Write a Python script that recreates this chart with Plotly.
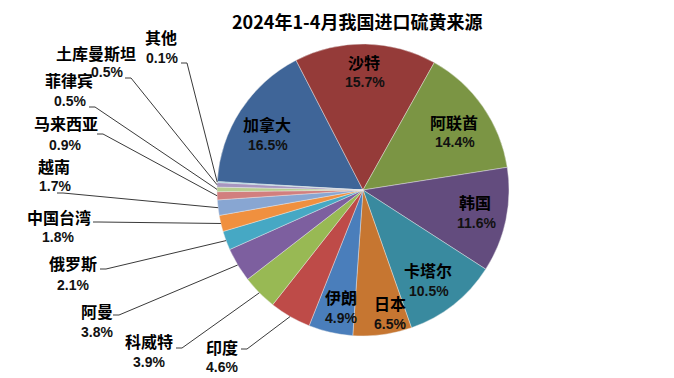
import math
import plotly.graph_objects as go

# ---------------- data ----------------
title_text = "2024年1-4月我国进口硫黄来源"
countries = ["加拿大", "沙特", "阿联酋", "韩国", "卡塔尔", "日本", "伊朗", "印度", "科威特",
             "阿曼", "俄罗斯", "中国台湾", "越南", "马来西亚", "菲律宾", "土库曼斯坦", "其他"]
shares = [16.5, 15.7, 14.4, 11.6, 10.5, 6.5, 4.9, 4.6, 3.9, 3.8, 2.1, 1.8, 1.7, 0.9, 0.5, 0.5, 0.1]

# ---------------- style ----------------
colors = ["#3F6598", "#953B39", "#7B9544", "#634C7E", "#398A9F", "#C67631",
          "#4A7EBB", "#BE4B48", "#98B954", "#7D5F9F", "#46A8C4", "#F0903F",
          "#88A6D2", "#D27F7E", "#B6CD8F", "#A796C0", "#86C6D8"]

PAGE_MARGIN = 8          # default body margin of the html page
W, H = 674 - PAGE_MARGIN, 378 - PAGE_MARGIN
CX, CY, R = 363, 190, 146   # in window pixels
ROT = 273.3  # start angle, clockwise from 12 o'clock

# label layout (window pixel centers): name center, percent center, leader anchor (outside labels)
label_pos = {
    "加拿大": ((267, 124), (268, 145), None),
    "沙特": ((364, 62), (365, 82), None),
    "阿联酋": ((454, 122), (455, 142), None),
    "韩国": ((475, 202), (476, 223), None),
    "卡塔尔": ((428, 270), (429, 291), None),
    "日本": ((390, 303), (390, 324), None),
    "伊朗": ((341, 297), (341, 318), None),
    "印度": ((222, 347), (222, 367), (241, 349)),
    "科威特": ((149, 341), (149, 362), (176, 348)),
    "阿曼": ((97, 311), (97, 332), (113, 315)),
    "俄罗斯": ((73, 263), (73, 285), (100, 269)),
    "中国台湾": ((59, 217), (58, 237), (93, 222)),
    "越南": ((54, 166), (55, 186), (57, 193)),
    "马来西亚": ((66, 123), (65, 145), (97, 134)),
    "菲律宾": ((69, 80), (70, 101), (89, 107)),
    "土库曼斯坦": ((96, 53), (107, 72), (125, 78)),
    "其他": ((161, 37), (162, 58), (181, 63)),
}

name_font = dict(family="Noto Sans CJK SC", size=16, color="#000000")
pct_font = dict(family="Liberation Sans", size=14, color="#111111")


def px(x):
    return (x - PAGE_MARGIN) / W


def py(y):
    return 1 - (y - PAGE_MARGIN) / H


fig = go.Figure(
    go.Pie(
        labels=countries,
        values=shares,
        sort=False,
        direction="clockwise",
        rotation=ROT - 360,
        marker=dict(colors=colors, line=dict(color="rgba(235,235,235,0.7)", width=0.6)),
        textinfo="none",
        hoverinfo="label+percent",
        showlegend=False,
        domain=dict(x=[px(CX - R), px(CX + R)], y=[py(CY + R), py(CY - R)]),
    )
)

annotations = []
shapes = []
total = sum(shares)
cum = 0.0
for name, v in zip(countries, shares):
    mid = math.radians(ROT + (cum + v / 2) / total * 360)
    cum += v
    ex = CX + R * math.sin(mid)
    ey = CY - R * math.cos(mid)
    (nx, ny), (qx, qy), anchor = label_pos[name]
    annotations.append(dict(x=px(nx), y=py(ny), xref="paper", yref="paper", text=f"<b>{name}</b>",
                            showarrow=False, xanchor="center", yanchor="middle", font=name_font))
    annotations.append(dict(x=px(qx), y=py(qy), xref="paper", yref="paper", text=f"<b>{v:.1f}%</b>",
                            showarrow=False, xanchor="center", yanchor="middle", font=pct_font))
    if anchor is not None:
        ax, ay = anchor
        stub = ax + 6
        path = f"M {px(ax)},{py(ay)} L {px(stub)},{py(ay)} L {px(ex)},{py(ey)}"
        shapes.append(dict(type="path", path=path, xref="paper", yref="paper",
                           line=dict(color="#3a3a3a", width=1)))

annotations.append(dict(x=px(357), y=py(21), xref="paper", yref="paper", text=f"<b>{title_text}</b>",
                        showarrow=False, xanchor="center", yanchor="middle",
                        font=dict(family="Noto Sans CJK SC", size=18, color="#000000")))

fig.update_layout(
    width=W, height=H,
    margin=dict(l=0, r=0, t=0, b=0),
    paper_bgcolor="white", plot_bgcolor="white",
    annotations=annotations, shapes=shapes,
)

fig.write_html("out.html")
